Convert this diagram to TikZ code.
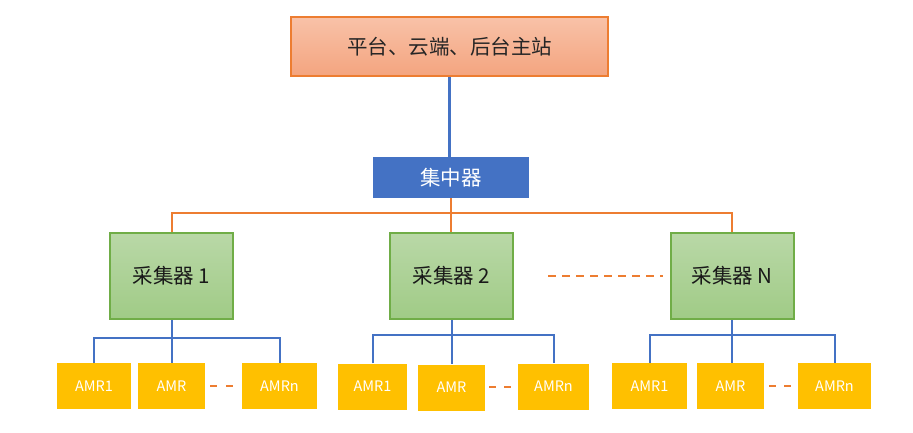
\documentclass[tikz,border=0pt]{standalone}
\usepackage{fontspec}
\setmainfont{Noto Sans CJK SC}
\usetikzlibrary{calc}
\definecolor{topfillA}{HTML}{F8C2A8}
\definecolor{topfillB}{HTML}{F4A47F}
\definecolor{topborder}{HTML}{ED7D31}
\definecolor{hubfill}{HTML}{4472C4}
\definecolor{grnA}{HTML}{B9D8A7}
\definecolor{grnB}{HTML}{A0CB86}
\definecolor{grnborder}{HTML}{70AD47}
\definecolor{amrfill}{HTML}{FFC000}
\definecolor{linkblue}{HTML}{4472C4}
\definecolor{linkorange}{HTML}{ED7D31}
\tikzset{
  topbox/.style={draw=topborder, line width=2pt, top color=topfillA, bottom color=topfillB,
    minimum width=317pt, minimum height=59pt, inner sep=0pt, font=\fontsize{20.5}{21}\selectfont, text=black!85},
  hubbox/.style={fill=hubfill, draw=none, minimum width=156pt, minimum height=41pt, inner sep=0pt,
    font=\fontsize{20.5}{21}\selectfont, text=white},
  collbox/.style={draw=grnborder, line width=2pt, top color=grnA, bottom color=grnB,
    minimum width=123pt, minimum height=86pt, inner sep=0pt, font=\fontsize{20.5}{21}\selectfont, text=black!90},
  amrbox/.style={fill=amrfill, draw=none, minimum height=46pt, inner sep=0pt,
    font=\fontsize{14.5}{15}\selectfont, text=white},
  bluelink/.style={draw=linkblue, line width=2pt},
  orangelink/.style={draw=linkorange, line width=2pt},
}
\begin{document}
\begin{tikzpicture}[x=1pt,y=-1pt]
\useasboundingbox (0,0) rectangle (913,432);
% top
\node[topbox] (top) at (449.5,46.5) {平台、云端、后台主站};
\node[hubbox] (hub) at (451,177.5) {集中器};
\node[collbox] (c1) at (171.5,276) {采集器 1};
\node[collbox] (c2) at (451.5,276) {采集器 2};
\node[collbox] (cN) at (732,276) {采集器 N};
% AMR group 1
\node[amrbox, minimum width=74pt] (a11) at (94,386) {AMR1};
\node[amrbox, minimum width=67pt] (a12) at (171.5,386) {AMR};
\node[amrbox, minimum width=75pt] (a1n) at (279.5,386) {AMRn};
% AMR group 2
\node[amrbox, minimum width=69pt] (a21) at (372.5,386.5) {AMR1};
\node[amrbox, minimum width=67pt] (a22) at (451.5,387.5) {AMR};
\node[amrbox, minimum width=71pt] (a2n) at (553.5,386.5) {AMRn};
% AMR group 3
\node[amrbox, minimum width=75pt] (a31) at (649.5,386) {AMR1};
\node[amrbox, minimum width=67pt] (a32) at (730.5,386) {AMR};
\node[amrbox, minimum width=73pt] (a3n) at (834.5,386) {AMRn};
% top to hub
\draw[draw=linkblue, line width=2.5pt] (top.south) -- (top.south |- hub.north);
% hub to collectors
\coordinate (obus) at (451,213);
\draw[orangelink] (hub.south) -- (hub.south |- c2.north);
\draw[orangelink] (c1.north) |- (obus) -| (cN.north);
% dashed between c2 and cN
\draw[orangelink, dash pattern=on 8pt off 6pt, shorten <=34pt, shorten >=7pt] (c2.east) -- (cN.west);
% collector to AMRs
\coordinate (b1) at (171.5,338);
\coordinate (b2) at (451.5,335);
\coordinate (b3) at (732,335);
\draw[bluelink] (c1.south) -- (c1.south |- a12.north);
\draw[bluelink] (a11.north) |- (b1) -| (a1n.north);
\draw[bluelink] (c2.south) -- (c2.south |- a22.north);
\draw[bluelink] (a21.north) |- (b2) -| (a2n.north);
\draw[bluelink] (cN.south) -- (cN.south |- a32.north);
\draw[bluelink] (a31.north) |- (b3) -| (a3n.north);
% small dashes between AMRs
\draw[orangelink, dash pattern=on 7pt off 9pt, shorten <=5pt, shorten >=9pt] (a12.east) -- (a1n.west);
\draw[orangelink, dash pattern=on 7pt off 8pt, shorten <=4pt, shorten >=7pt] (a22.east |- a2n.east) -- (a2n.west);
\draw[orangelink, dash pattern=on 7pt off 8pt, shorten <=5pt, shorten >=7pt] (a32.east) -- (a3n.west);
\end{tikzpicture}
\end{document}
